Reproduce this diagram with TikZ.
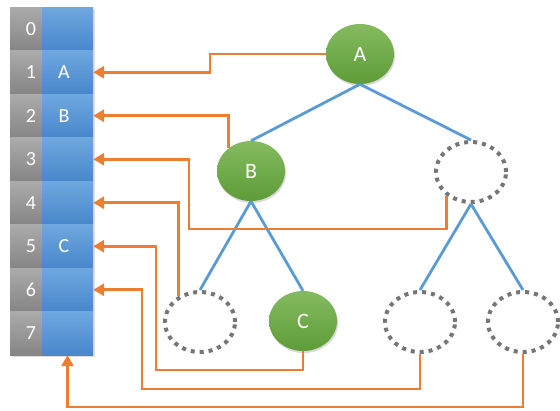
\documentclass[tikz,border=0pt]{standalone}
\usepackage{fontspec}
\setmainfont{Carlito}
\usetikzlibrary{shapes.geometric,arrows.meta,shadows}

\definecolor{linkorange}{HTML}{ED7D31}
\definecolor{treeblue}{HTML}{5B9BD5}
\definecolor{dotgray}{HTML}{767676}
\definecolor{idxtop}{HTML}{ABABAB}
\definecolor{idxbot}{HTML}{858585}
\definecolor{celltop}{HTML}{6FA8DE}
\definecolor{cellbot}{HTML}{4887CB}
\definecolor{greentop}{HTML}{84BB60}
\definecolor{greenbot}{HTML}{5E9C37}

\tikzset{
  idx/.style={rectangle, minimum width=32pt, minimum height=43.5pt, inner sep=0pt,
    top color=idxtop, bottom color=idxbot,
    drop shadow={opacity=0.25, shadow xshift=1.5pt, shadow yshift=-2pt}},
  cell/.style={rectangle, minimum width=51pt, minimum height=43.5pt, inner sep=0pt,
    top color=celltop, bottom color=cellbot,
    drop shadow={opacity=0.25, shadow xshift=1.5pt, shadow yshift=-2pt}},
  celltext/.style={text=white, font=\fontsize{20}{20}\selectfont},
  full/.style={ellipse, minimum width=68pt, minimum height=60pt, inner sep=0pt,
    top color=greentop, bottom color=greenbot, text=white,
    font=\fontsize{22}{22}\selectfont,
    drop shadow={opacity=0.3, shadow xshift=1pt, shadow yshift=-2pt}},
  empty/.style={ellipse, draw=dotgray, line width=4pt, dash pattern=on 4pt off 5pt,
    minimum width=70pt, minimum height=60pt, inner sep=0pt},
  treeline/.style={treeblue, line width=2.8pt},
  link/.style={linkorange, line width=2.8pt, ->}
}

\begin{document}
\begin{tikzpicture}[x=1pt, y=-1pt, >={Triangle[length=11pt,width=12pt]}]
\useasboundingbox (0,0) rectangle (560,410);

% array
\foreach \k/\t in {0/{},1/A,2/B,3/{},4/{},5/C,6/{},7/{}}
{
    \node[idx] (i\k) at (26,28.75+43.5*\k) {};
    \node[cell] (c\k) at (67.5,28.75+43.5*\k) {};
    \node[celltext] (n\k) at (31,28.75+43.5*\k) {\k};
    \node[celltext] (t\k) at (64,28.75+43.5*\k) {\t};
}

% tree
\node[full] (A) at (360,54) {A};
\node[full] (B) at (251,171) {B};
\node[empty] (R) at (471,172) {};
\node[empty] (BL) at (200,322) {};
\node[full] (C) at (303,321) {C};
\node[empty] (RL) at (420,322) {};
\node[empty] (RR) at (523,322) {};

\foreach \p/\c in {A/B,A/R,B/BL,B/C,R/RL,R/RR}
    \draw[treeline] (\p.south) -- (\c.north);

% links into the array
\draw[link] (A.west) -- (210,54) |- (c1.east);
\draw[link] (B.135) |- (c2.east);
\draw[link] (R.225) |- (189,229) |- (c3.east);
\draw[link] (BL.130) |- (c4.east);
\draw[link] (C.south) |- (156,370) |- (c5.east);
\draw[link] (RL.south) |- (142,389) |- (c6.east);
\draw[link] (RR.south) |- (68,407) -| (c7.south);
\end{tikzpicture}
\end{document}
